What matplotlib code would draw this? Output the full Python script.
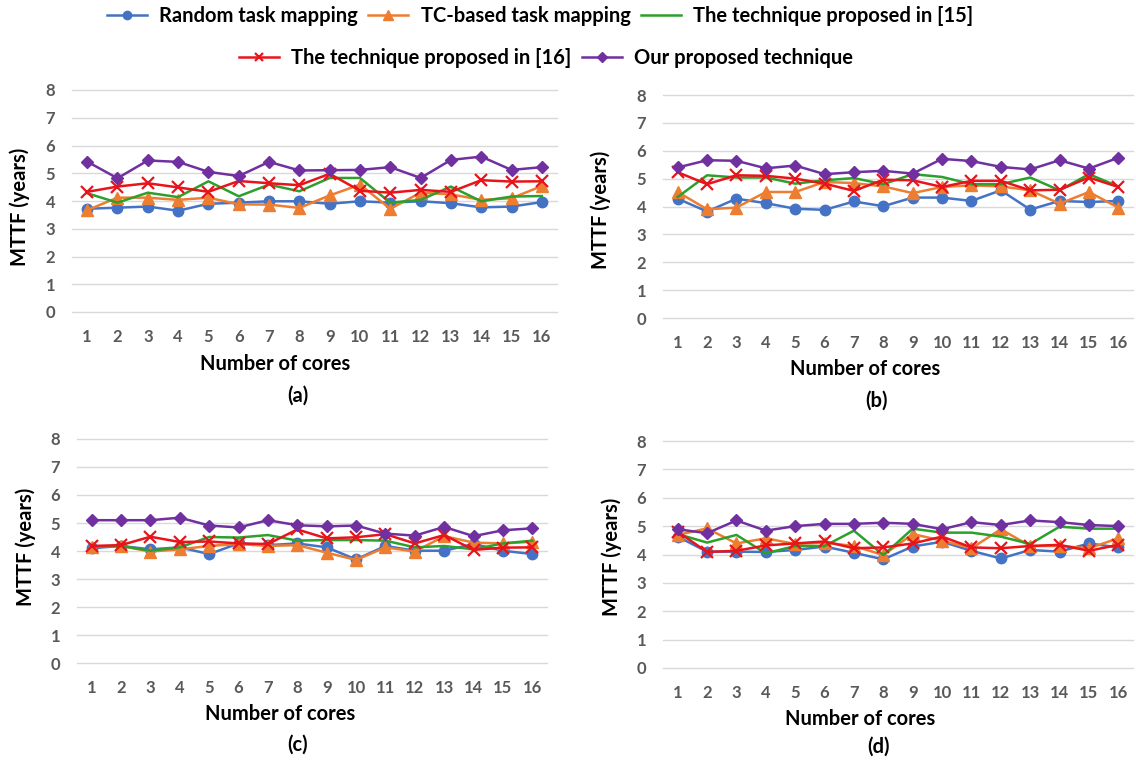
import numpy as np
import matplotlib.pyplot as plt

plt.rcParams['font.family'] = ['Lato', 'DejaVu Sans']
plt.rcParams['font.weight'] = 'bold'
plt.rcParams['mathtext.fontset'] = 'custom'
plt.rcParams['mathtext.bf'] = 'Lato:bold'
plt.rcParams['mathtext.rm'] = 'Lato:bold'

cores = list(range(1, 17))
series_names = ['Random task mapping', 'TC-based task mapping',
                'The technique proposed in [15]', 'The technique proposed in [16]',
                'Our proposed technique']

# (a) MTTF_TC
tc_random = [3.72, 3.76, 3.80, 3.65, 3.90, 3.94, 3.99, 3.99, 3.90, 3.99, 3.94, 3.99, 3.92, 3.77, 3.80, 3.96]
tc_tcbased = [3.67, 4.12, 4.12, 4.04, 4.12, 3.88, 3.87, 3.75, 4.20, 4.59, 3.72, 4.30, 4.24, 4.04, 4.10, 4.54]
tc_ref15 = [4.28, 3.94, 4.30, 4.14, 4.71, 4.17, 4.59, 4.35, 4.83, 4.83, 3.94, 4.04, 4.52, 3.99, 4.16, 4.18]
tc_ref16 = [4.33, 4.52, 4.64, 4.49, 4.33, 4.72, 4.64, 4.57, 4.98, 4.37, 4.30, 4.40, 4.33, 4.75, 4.70, 4.71]
tc_ours = [5.42, 4.82, 5.46, 5.41, 5.05, 4.90, 5.41, 5.10, 5.11, 5.12, 5.22, 4.83, 5.48, 5.60, 5.12, 5.22]

# (b) MTTF_HCI
hci_random = [4.28, 3.82, 4.28, 4.12, 3.92, 3.88, 4.18, 4.01, 4.32, 4.32, 4.20, 4.58, 3.89, 4.20, 4.16, 4.20]
hci_tcbased = [4.52, 3.90, 3.96, 4.52, 4.52, 4.88, 4.84, 4.72, 4.48, 4.70, 4.76, 4.72, 4.58, 4.10, 4.52, 3.96]
hci_ref15 = [4.34, 5.12, 5.04, 5.04, 4.82, 4.94, 5.02, 4.80, 5.16, 5.06, 4.80, 4.80, 5.04, 4.58, 5.16, 4.72]
hci_ref16 = [5.23, 4.80, 5.12, 5.10, 5.00, 4.82, 4.56, 4.96, 4.94, 4.70, 4.92, 4.92, 4.58, 4.60, 5.04, 4.70]
hci_ours = [5.40, 5.66, 5.64, 5.37, 5.47, 5.16, 5.23, 5.28, 5.18, 5.71, 5.63, 5.42, 5.33, 5.66, 5.36, 5.75]

# (c) MTTF_EM
em_random = [4.10, 4.18, 4.06, 4.13, 3.89, 4.27, 4.21, 4.27, 4.13, 3.70, 4.18, 4.01, 4.01, 4.25, 4.01, 3.89]
em_tcbased = [4.15, 4.18, 3.98, 4.06, 4.18, 4.25, 4.18, 4.21, 3.94, 3.68, 4.13, 3.98, 4.53, 4.30, 4.27, 4.33]
em_ref15 = [4.15, 4.18, 4.01, 4.13, 4.50, 4.48, 4.57, 4.37, 4.39, 4.39, 4.37, 4.13, 4.18, 4.06, 4.27, 4.37]
em_ref16 = [4.18, 4.21, 4.51, 4.32, 4.34, 4.27, 4.25, 4.77, 4.45, 4.49, 4.60, 4.27, 4.57, 4.04, 4.12, 4.13]
em_ours = [5.10, 5.10, 5.10, 5.19, 4.91, 4.84, 5.10, 4.92, 4.88, 4.91, 4.62, 4.55, 4.86, 4.53, 4.74, 4.81]

# (d) MTTF_NBTI
nbti_random = [4.63, 4.10, 4.10, 4.09, 4.16, 4.28, 4.06, 3.83, 4.28, 4.45, 4.13, 3.86, 4.16, 4.10, 4.39, 4.25]
nbti_tcbased = [4.69, 4.92, 4.39, 4.57, 4.37, 4.42, 4.30, 3.98, 4.72, 4.49, 4.22, 4.89, 4.30, 4.30, 4.22, 4.57]
nbti_ref15 = [4.72, 4.42, 4.69, 4.04, 4.30, 4.30, 4.84, 3.98, 4.91, 4.77, 4.77, 4.63, 4.37, 4.98, 4.91, 4.91]
nbti_ref16 = [4.80, 4.09, 4.13, 4.32, 4.39, 4.46, 4.22, 4.25, 4.39, 4.63, 4.25, 4.22, 4.30, 4.34, 4.13, 4.34]
nbti_ours = [4.89, 4.75, 5.20, 4.84, 5.00, 5.08, 5.08, 5.12, 5.08, 4.89, 5.14, 5.04, 5.20, 5.14, 5.04, 5.00]

colors = ['#4472C4', '#ED7D31', '#2CA02C', '#E8141B', '#7030A0']
markers = ['o', '^', None, 'x', 'D']
msizes = [7.5, 8.5, 0, 8, 6.5]

W, H = 1136, 763
fig = plt.figure(figsize=(W / 100, H / 100), dpi=100)


def fx(x):
    return x / W


def fy(y):
    return 1 - y / H


def draw_panel(box, panel, sub, tx, ty, xlab, plab, ylab):
    l, r, t, b = box
    ax = fig.add_axes([fx(l), fy(b), fx(r - l), (b - t) / H])
    lines = []
    for vals, c, m, s, name in zip(panel, colors, markers, msizes, series_names):
        ln, = ax.plot(cores, vals, color=c, marker=m, markersize=s, lw=1.8,
                      mew=1.6 if m == 'x' else 1, label=name)
        lines.append(ln)
    ax.set_xlim(0.5, 16.5)
    ax.set_ylim(0, 8)
    ax.set_xticks(cores)
    ax.set_yticks(range(0, 9))
    ax.grid(axis='y', color='#D9D9D9', lw=1)
    for g in ax.get_ygridlines():
        g.set_clip_on(False)
    ax.set_axisbelow(True)
    for sp in ax.spines.values():
        sp.set_visible(False)
    ax.yaxis.offsetText.set_visible(False)
    ax.xaxis.offsetText.set_visible(False)
    ax.tick_params(axis='both', length=0, labelsize=12, labelcolor='#595959')
    ax.tick_params(axis='x', pad=12)
    ax.tick_params(axis='y', pad=12)
    ax.text(tx, ty, r'$\mathbf{MTTF}_{\mathbf{' + sub + '}}$', transform=ax.get_xaxis_transform(),
            ha='center', va='center', fontsize=15)
    fig.text(fx(xlab[0]), fy(xlab[1]), 'Number of cores', ha='center', va='center', fontsize=14.5)
    fig.text(fx(plab[0]), fy(plab[1]), plab[2], ha='center', va='center', fontsize=14.5)
    fig.text(fx(ylab[0]), fy(ylab[1]), 'MTTF (years)', ha='center', va='center',
             fontsize=14.5, rotation=90)
    return lines


lines = draw_panel((72, 557, 90, 312), [tc_random, tc_tcbased, tc_ref15, tc_ref16, tc_ours],
                   'TC', 0.445, 7.46, (275, 364), (298, 396, '(a)'), (20, 207))
draw_panel((663, 1133, 95, 318), [hci_random, hci_tcbased, hci_ref15, hci_ref16, hci_ours],
           'HCI', 0.465, 7.57, (865, 369), (877, 401, '(b)'), (601, 210))
draw_panel((77, 547, 439, 663), [em_random, em_tcbased, em_ref15, em_ref16, em_ours],
           'EM', 0.453, 7.6, (280, 714), (298, 745, '(c)'), (26, 547))
draw_panel((663, 1133, 441, 668), [nbti_random, nbti_tcbased, nbti_ref15, nbti_ref16, nbti_ours],
           'NBTI', 0.454, 7.58, (860, 719), (878, 747, '(d)'), (612, 557))

fig.legend(handles=lines[:3], loc='center', bbox_to_anchor=(fx(540), fy(16)), ncol=3,
           frameon=False, fontsize=14.5, handlelength=2.0, handletextpad=0.6, columnspacing=0.5,
           markerscale=0.8)
fig.legend(handles=lines[3:], loc='center', bbox_to_anchor=(fx(546), fy(58)), ncol=2,
           frameon=False, fontsize=14.5, handlelength=2.0, handletextpad=0.6, columnspacing=0.5,
           markerscale=0.8)

fig.savefig('out.png', dpi=100)
